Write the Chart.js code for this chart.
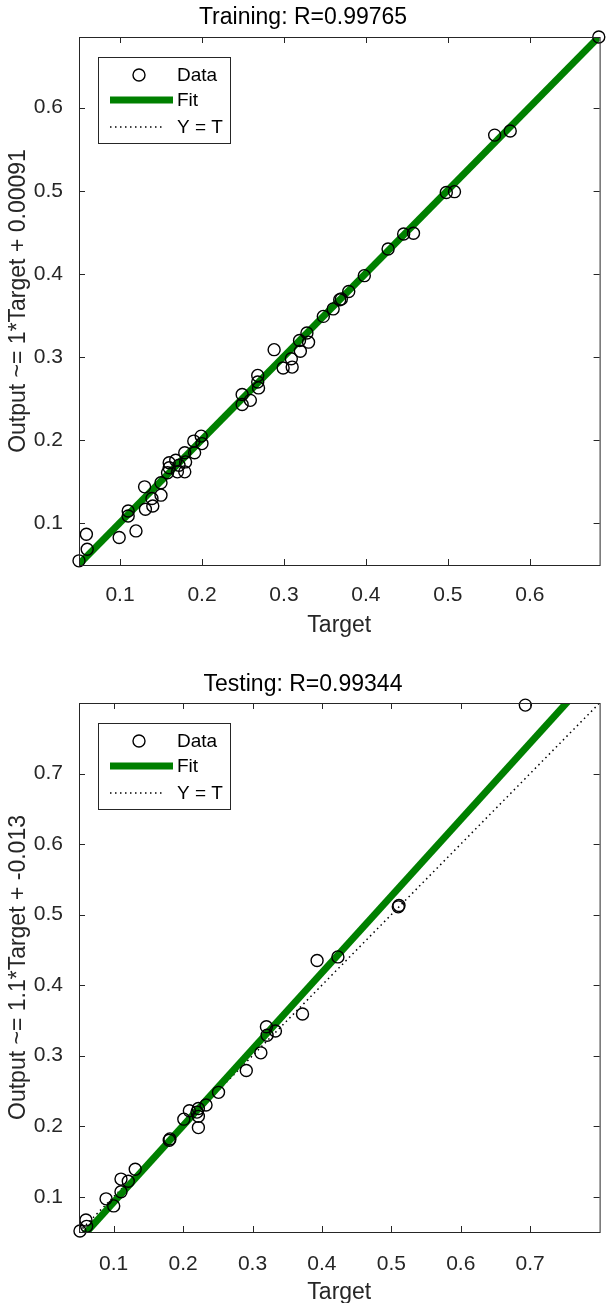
<!DOCTYPE html>
<html>
<head>
<meta charset="utf-8">
<script src="https://cdn.jsdelivr.net/npm/chart.js@4.4.1/dist/chart.umd.min.js"></script>
<style>
  html, body { margin: 0; padding: 0; background: #fff; overflow: hidden; }
  #train-box { position: absolute; left: 0; top: 0; width: 607px; height: 650px; }
  #test-box { position: absolute; left: 0; top: 650px; width: 607px; height: 665px; }
</style>
</head>
<body>
<div id="train-box"><canvas id="trainChart" width="607" height="650"></canvas></div>
<div id="test-box"><canvas id="testChart" width="607" height="665"></canvas></div>
<script>
// data
const trainTarget = [0.050, 0.059, 0.060, 0.099, 0.110, 0.110, 0.1195, 0.130, 0.131, 0.139,
  0.140, 0.150, 0.150, 0.158, 0.160, 0.160, 0.168, 0.170, 0.172, 0.179,
  0.179, 0.180, 0.190, 0.191, 0.199, 0.200, 0.249, 0.249, 0.259, 0.268,
  0.268, 0.269, 0.288, 0.299, 0.309, 0.310, 0.319, 0.320, 0.328, 0.330,
  0.348, 0.360, 0.368, 0.370, 0.379, 0.398, 0.427, 0.446, 0.458, 0.498,
  0.508, 0.557, 0.576, 0.684];
const trainOutput = [0.055, 0.087, 0.069, 0.083, 0.115, 0.109, 0.091, 0.144, 0.117, 0.130,
  0.121, 0.134, 0.149, 0.161, 0.173, 0.167, 0.176, 0.162, 0.170, 0.185,
  0.162, 0.174, 0.199, 0.185, 0.205, 0.196, 0.255, 0.243, 0.248, 0.278,
  0.270, 0.263, 0.309, 0.287, 0.298, 0.288, 0.320, 0.307, 0.329, 0.318,
  0.349, 0.358, 0.369, 0.370, 0.379, 0.398, 0.430, 0.448, 0.449, 0.498,
  0.499, 0.567, 0.572, 0.685];

const testTarget = [0.0514, 0.060, 0.061, 0.089, 0.100, 0.1105, 0.1105, 0.121, 0.131, 0.180,
  0.181, 0.201, 0.209, 0.222, 0.222, 0.222, 0.220, 0.233, 0.251, 0.291,
  0.312, 0.320, 0.321, 0.333, 0.372, 0.393, 0.423, 0.510, 0.511, 0.693];
const testOutput = [0.0514, 0.067, 0.058, 0.097, 0.087, 0.125, 0.107, 0.122, 0.139, 0.180,
  0.182, 0.210, 0.222, 0.225, 0.214, 0.198, 0.220, 0.230, 0.248, 0.279,
  0.304, 0.341, 0.329, 0.335, 0.359, 0.435, 0.440, 0.511, 0.513, 0.797];

const trainLimits = [0.05, 0.685];
const testLimits = [0.05, 0.80];
const trainTicks = [0.1, 0.2, 0.3, 0.4, 0.5, 0.6];
const testTicks = [0.1, 0.2, 0.3, 0.4, 0.5, 0.6, 0.7];

// fit lines (slope, intercept)
const trainFit = [1, 0.00091];
const testFit = [1.085, -0.0162];

const FONT = '"Liberation Sans", Arial, Helvetica, sans-serif';
const AXIS_COLOR = '#262626';

// box, inward ticks on all sides, and the legend inside the axes
const matlabFrame = {
  id: 'matlabFrame',
  afterDatasetsDraw(chart) {
    const { ctx, chartArea: a, scales: { x, y } } = chart;
    const tl = 6;
    ctx.save();
    ctx.strokeStyle = AXIS_COLOR;
    ctx.lineWidth = 1;
    ctx.setLineDash([]);
    ctx.strokeRect(a.left + 0.5, a.top + 0.5, a.width, a.height);
    ctx.beginPath();
    x.ticks.forEach(t => {
      const px = Math.round(x.getPixelForValue(t.value)) + 0.5;
      ctx.moveTo(px, a.bottom); ctx.lineTo(px, a.bottom - tl);
      ctx.moveTo(px, a.top); ctx.lineTo(px, a.top + tl);
    });
    y.ticks.forEach(t => {
      const py = Math.round(y.getPixelForValue(t.value)) + 0.5;
      ctx.moveTo(a.left, py); ctx.lineTo(a.left + tl, py);
      ctx.moveTo(a.right, py); ctx.lineTo(a.right - tl, py);
    });
    ctx.stroke();

    // legend
    const bx = a.left + 19, by = a.top + 20, bw = 132, bh = 86;
    const rows = [18, 43, 70];
    ctx.fillStyle = '#fff';
    ctx.fillRect(bx, by, bw, bh);
    ctx.strokeStyle = AXIS_COLOR;
    ctx.lineWidth = 1;
    ctx.strokeRect(bx + 0.5, by + 0.5, bw, bh);
    ctx.font = '19px ' + FONT;
    ctx.textBaseline = 'middle';
    chart.data.datasets.forEach((ds, i) => {
      const cy = by + rows[i];
      ctx.save();
      if (ds.showLine) {
        ctx.strokeStyle = ds.borderColor;
        ctx.lineWidth = ds.borderWidth;
        ctx.setLineDash(ds.borderDash || []);
        ctx.beginPath();
        ctx.moveTo(bx + 12, cy);
        ctx.lineTo(bx + (ds.borderDash ? 67 : 75), cy);
        ctx.stroke();
      } else {
        ctx.strokeStyle = ds.borderColor;
        ctx.lineWidth = ds.pointBorderWidth;
        ctx.beginPath();
        ctx.arc(bx + 41, cy, ds.pointRadius, 0, Math.PI * 2);
        ctx.stroke();
      }
      ctx.restore();
      ctx.fillStyle = '#000';
      ctx.fillText(ds.label, bx + 79, cy + 1);
    });
    ctx.restore();
  }
};

const makeChart = (id, opt) => {
  const [lo, hi] = opt.limits;
  const [m, b] = opt.fit;
  return new Chart(document.getElementById(id), {
    type: 'scatter',
    data: {
      datasets: [
        {
          label: 'Data',
          data: opt.target.map((t, i) => ({ x: t, y: opt.output[i] })),
          pointStyle: 'circle',
          pointRadius: 6,
          pointBorderWidth: 1.4,
          borderColor: '#000',
          backgroundColor: 'rgba(0,0,0,0)',
          clip: false,
        },
        {
          label: 'Fit',
          data: [{ x: lo, y: m * lo + b }, { x: hi, y: m * hi + b }],
          showLine: true,
          borderColor: '#008000',
          borderWidth: 7,
          pointRadius: 0,
          clip: 0,
        },
        {
          label: 'Y = T',
          data: [{ x: lo, y: lo }, { x: hi, y: hi }],
          showLine: true,
          borderColor: '#000',
          borderWidth: 1.5,
          borderDash: [1.5, 3.5],
          pointRadius: 0,
          clip: 0,
        },
      ]
    },
    options: {
      responsive: false,
      animation: false,
      devicePixelRatio: 1,
      layout: { padding: { right: 1 } },
      plugins: {
        legend: { display: false },
        tooltip: { enabled: false },
        title: {
          display: true,
          text: opt.title,
          color: '#000',
          font: { size: 23, family: FONT, weight: 'normal' },
          padding: opt.titlePad,
        },
      },
      scales: {
        x: {
          type: 'linear',
          min: lo,
          max: hi,
          grid: { display: false },
          border: { display: false },
          afterBuildTicks: s => { s.ticks = opt.ticks.map(v => ({ value: v })); },
          afterFit: s => { s.height = opt.xHeight; },
          ticks: {
            padding: opt.xTickPad,
            autoSkip: false,
            maxRotation: 0,
            color: AXIS_COLOR,
            font: { size: 21, family: FONT },
            callback: v => v.toFixed(1),
          },
          title: {
            display: true,
            text: 'Target',
            color: AXIS_COLOR,
            font: { size: 23, family: FONT },
            padding: { top: 0, bottom: opt.xTitlePad },
          },
        },
        y: {
          type: 'linear',
          min: lo,
          max: hi,
          grid: { display: false },
          border: { display: false },
          afterBuildTicks: s => { s.ticks = opt.ticks.map(v => ({ value: v })); },
          afterFit: s => { s.width = 79; },
          ticks: {
            padding: 8,
            autoSkip: false,
            color: AXIS_COLOR,
            font: { size: 21, family: FONT },
            callback: v => v.toFixed(1),
          },
          title: {
            display: true,
            text: opt.yLabel,
            color: AXIS_COLOR,
            font: { size: 23, family: FONT },
            padding: { top: 5, bottom: 0 },
          },
        },
      },
    },
    plugins: [matlabFrame],
  });
};

makeChart('trainChart', {
  target: trainTarget,
  output: trainOutput,
  limits: trainLimits,
  ticks: trainTicks,
  fit: trainFit,
  title: 'Training: R=0.99765',
  yLabel: 'Output ~= 1*Target + 0.00091',
  titlePad: { top: 4, bottom: 5.4 },
  xHeight: 85,
  xTickPad: 10,
  xTitlePad: 11,
});

makeChart('testChart', {
  target: testTarget,
  output: testOutput,
  limits: testLimits,
  ticks: testTicks,
  fit: testFit,
  title: 'Testing: R=0.99344',
  yLabel: 'Output ~= 1.1*Target + -0.013',
  titlePad: { top: 21, bottom: 4.4 },
  xHeight: 83,
  xTickPad: 12,
  xTitlePad: 9,
});
</script>
</body>
</html>
